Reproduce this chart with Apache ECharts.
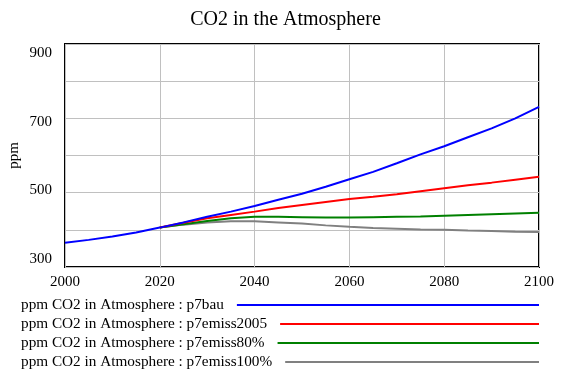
<!DOCTYPE html>
<html>
<head>
<meta charset="utf-8">
<script src="https://cdn.jsdelivr.net/npm/echarts@6/dist/echarts.min.js"></script>
<style>html,body{margin:0;padding:0;background:#fff}#c{width:571px;height:380px}</style>
</head>
<body>
<div id="c"></div>
<script>
const titleText = 'CO2 in the Atmosphere';
const yAxisName = 'ppm';
const xTicks = [2000, 2020, 2040, 2060, 2080, 2100];
const yTickLabels = [300, 500, 700, 900];
const years = [2000, 2005, 2010, 2015, 2020, 2025, 2030, 2035, 2040, 2045, 2050, 2055, 2060, 2065, 2070, 2075, 2080, 2085, 2090, 2095, 2100];
const seriesNames = [
  'ppm CO2 in Atmosphere : p7bau',
  'ppm CO2 in Atmosphere : p7emiss2005',
  'ppm CO2 in Atmosphere : p7emiss80%',
  'ppm CO2 in Atmosphere : p7emiss100%'
];
const p7bau       = [365, 373, 382, 393, 406, 420, 435, 449, 464, 481, 497, 516, 536, 556, 579, 603, 625, 649, 673, 700, 731];
const p7emiss2005 = [null, null, null, null, 406, 419, 431, 440, 449, 459, 467, 475, 483, 489, 496, 504, 512, 520, 527, 535, 543];
const p7emiss80   = [null, null, null, null, 406, 415, 424, 431, 435, 435, 434, 433, 433, 434, 435, 436, 438, 440, 442, 444, 446];
const p7emiss100  = [null, null, null, null, 406, 414, 420, 423, 423, 420, 417, 412, 408, 405, 403, 401, 400, 398, 397, 395, 394];
const seriesValues = [p7bau, p7emiss2005, p7emiss80, p7emiss100];
const colors = ['#0000ff', '#ff0000', '#008000', '#808080'];

const FONT = '"Liberation Serif", "Times New Roman", serif';
const LEG_FS = 15.25;
const cv = document.createElement('canvas').getContext('2d');
cv.font = LEG_FS + 'px "Liberation Serif"';

const gridLeft = 65, gridRight = 539, gridTop = 44, gridBottom = 267;
const legendTops = [297, 316, 335, 354];
const legendLeft = 21, legendPad = 8;

const legends = seriesNames.map((n, i) => {
  const tw = cv.measureText(n).width;
  return {
    data: [n],
    left: legendLeft,
    top: legendTops[i],
    orient: 'horizontal',
    align: 'right',
    icon: 'rect',
    itemHeight: 2,
    itemWidth: Math.max(10, gridRight - legendLeft - tw - 5 - legendPad),
    selectedMode: false,
    padding: 0,
    textStyle: { fontFamily: FONT, fontSize: LEG_FS, color: '#000', lineHeight: 16, padding: [0, legendPad, 0, 0] }
  };
});

const chart = echarts.init(document.getElementById('c'), null, { renderer: 'canvas' });
chart.setOption({
  animation: false,
  backgroundColor: '#fff',
  title: {
    text: titleText,
    left: 'center',
    top: 10,
    padding: 0,
    textStyle: { fontFamily: FONT, fontSize: 20, fontWeight: 'normal', color: '#000' }
  },
  legend: legends,
  grid: {
    left: gridLeft, right: 571 - gridRight, top: gridTop, bottom: 380 - gridBottom,
    containLabel: false, outerBoundsMode: 'none',
    show: true, borderColor: '#000', borderWidth: 2, backgroundColor: 'transparent'
  },
  xAxis: {
    type: 'value', min: xTicks[0], max: xTicks[xTicks.length - 1], interval: 20,
    axisLine: { show: false }, axisTick: { show: false },
    splitLine: { show: true, lineStyle: { color: '#c0c0c0', width: 1 } },
    axisLabel: { fontFamily: FONT, fontSize: 15, color: '#000', margin: 8, formatter: v => String(v) }
  },
  yAxis: [
    {
      type: 'value', min: 300, max: 900, interval: 100,
      axisLine: { show: false }, axisTick: { show: false },
      splitLine: { show: true, lineStyle: { color: '#c0c0c0', width: 1 } },
      axisLabel: { show: false },
      name: yAxisName, nameLocation: 'middle', nameGap: 43, nameRotate: 90,
      nameTextStyle: { fontFamily: FONT, fontSize: 15, color: '#000' }
    },
    {
      type: 'value', min: 275.8, max: 927.2, position: 'left',
      axisLine: { show: false }, axisTick: { show: false }, splitLine: { show: false },
      axisLabel: { customValues: yTickLabels, fontFamily: FONT, fontSize: 15, color: '#000', margin: 13, formatter: v => String(v) }
    }
  ],
  series: seriesValues.map((vals, i) => ({
    name: seriesNames[i],
    type: 'line',
    yAxisIndex: 0,
    data: years.map((y, k) => [y, vals[k]]),
    showSymbol: false,
    symbol: 'none',
    smooth: false,
    color: colors[i],
    lineStyle: { color: colors[i], width: 2 },
    z: 10 - i
  }))
});
</script>
</body>
</html>
